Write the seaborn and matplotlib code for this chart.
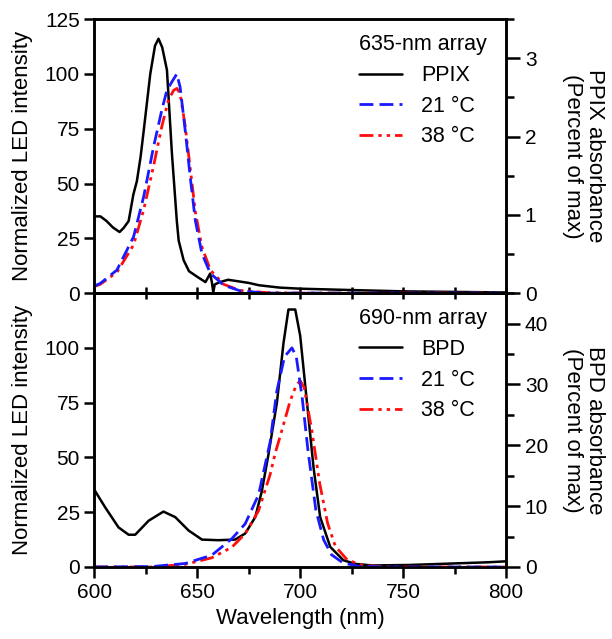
import pandas as pd
import seaborn as sns
import matplotlib.pyplot as plt
from matplotlib.ticker import MultipleLocator
from matplotlib.lines import Line2D

# --- top panel: 635-nm array / PPIX (absorbance in percent of max) ---
ppix_wl = [600, 603, 606, 609, 612.3, 614.2, 616.7, 619, 620.7, 622.5, 624, 627.2,
           629.5, 631.2, 633, 635.3, 637.7, 640.1, 641, 643.4, 646, 649.9, 654,
           656.3, 657.1, 657.8, 658.5, 661, 665, 670, 675, 680, 690, 700, 720, 750, 800]
ppix_abs = [0.98, 0.98, 0.92, 0.84, 0.78, 0.83, 0.92, 1.26, 1.43, 1.74, 2.07, 2.80,
            3.16, 3.25, 3.14, 2.85, 1.79, 0.92, 0.67, 0.42, 0.28, 0.21, 0.14,
            0.25, 0.14, 0.01, 0.11, 0.14, 0.17, 0.15, 0.13, 0.10, 0.07, 0.056, 0.042,
            0.022, 0.008]

led635_21_wl = [600, 602.9, 611, 619.1, 624, 628.8, 632.8, 635.3, 637.7, 640.1, 641.7,
                644.2, 646.6, 649.1, 652.3, 656.4, 662.8, 670.9, 683.9, 800]
led635_21 = [3.2, 4.4, 10.5, 25.7, 44, 66.7, 83.5, 92.6, 96.4, 100, 94,
             74, 53, 33, 18, 9, 3.6, 1, 0, 0]

led635_38_wl = [600, 602.9, 611, 619.1, 624, 628.8, 632.8, 636, 638.5, 640.1, 641.7,
                644.2, 646.6, 649.1, 652.3, 656.4, 662.8, 670.9, 683.9, 700, 800]
led635_38 = [3, 4, 9.5, 22, 38, 58, 76, 88, 92.5, 93.4, 91,
             76, 57, 37, 21, 10.5, 4, 1.2, 0.2, 0, 0]

# --- bottom panel: 690-nm array / BPD ---
bpd_wl = [600, 605.3, 611.8, 616.7, 619.9, 626.4, 633.6, 639.3, 645.8, 652.3, 660.3,
          668.4, 673.3, 678.2, 681.4, 684.6, 688.7, 691.9, 694.3, 697.6, 700, 703.3,
          706.5, 709.7, 714.6, 721, 727, 735, 753, 772, 791, 800]
bpd_abs = [12.7, 9.8, 6.5, 5.3, 5.3, 7.6, 9.1, 8.2, 6.0, 4.5, 4.4,
           4.5, 5.5, 8.2, 12.5, 18.5, 27, 36.8, 42.3, 42.3, 38, 27,
           16.3, 8.2, 3.3, 1.1, 0.5, 0.25, 0.33, 0.55, 0.77, 0.93]

led690_21_wl = [600, 628, 644.2, 657.1, 666.8, 673.3, 679.8, 685.4, 688.6, 692.4, 696,
                698.1, 701, 703.8, 707.6, 711.4, 715.2, 720.9, 728.5, 743.6, 800]
led690_21 = [0, 0.2, 1.6, 5.4, 12.9, 19.7, 33, 57, 80, 96, 100,
             96, 77, 53, 26, 12.4, 5.6, 1.8, 0.3, 0, 0]

led690_38_wl = [600, 628, 644.2, 657.1, 666.8, 673.3, 679.8, 685.4, 687.9, 691, 695.2,
                698.1, 700, 701.9, 705.7, 709.5, 713.3, 717.1, 722.8, 730.4, 743.6, 800]
led690_38 = [0, 0, 1.2, 4.2, 9, 15.2, 25.7, 42.2, 52, 62, 76,
             83, 85, 82, 62, 38, 20, 9.4, 3.3, 0.6, 0, 0]

sns.set_style("ticks")
plt.rcParams['font.family'] = ['Liberation Sans', 'DejaVu Sans']
plt.rcParams['axes.linewidth'] = 1.8
plt.rcParams['axes.edgecolor'] = 'black'
plt.rcParams['xtick.color'] = 'black'
plt.rcParams['ytick.color'] = 'black'
plt.rcParams['text.color'] = 'black'
plt.rcParams['axes.labelcolor'] = 'black'

BLUE = "#1a1aff"
RED = "#ff0d0d"
dash21 = (0, (5, 2.2))
dash38 = (0, (5, 1.8, 1.2, 1.8, 1.2, 1.8))

fig, (ax1, ax2) = plt.subplots(2, 1, figsize=(6.12, 6.39), dpi=100, sharex=True)
fig.subplots_adjust(left=0.154, right=0.827, top=0.970, bottom=0.1127, hspace=0)

panels = [
    (ax1, ppix_wl, ppix_abs, led635_21_wl, led635_21, led635_38_wl, led635_38,
     "PPIX", "635-nm array", 3.5, 1, 0.5),
    (ax2, bpd_wl, bpd_abs, led690_21_wl, led690_21, led690_38_wl, led690_38,
     "BPD", "690-nm array", 45, 10, 5),
]

for ax, dw, dv, w21, v21, w38, v38, drug, title, rmax, rmaj, rmin in panels:
    axr = ax.twinx()
    sns.lineplot(x=w38, y=v38, ax=ax, color=RED, lw=2, linestyle=dash38)
    sns.lineplot(x=w21, y=v21, ax=ax, color=BLUE, lw=2, linestyle=dash21)
    sns.lineplot(x=dw, y=dv, ax=axr, color="black", lw=1.8)
    ax.set_zorder(axr.get_zorder() + 1)
    ax.patch.set_visible(False)

    ax.set_xlim(600, 800)
    ax.set_ylim(0, 125)
    ax.yaxis.set_major_locator(MultipleLocator(25))
    ax.xaxis.set_major_locator(MultipleLocator(50))
    ax.xaxis.set_minor_locator(MultipleLocator(25))
    ax.set_ylabel("Normalized LED intensity", fontsize=16, va="center")
    ax.yaxis.set_label_coords(-0.175, 0.5)
    ax.tick_params(axis="y", direction="out", length=7, width=1.8, labelsize=15)

    axr.set_ylim(0, rmax)
    axr.yaxis.set_major_locator(MultipleLocator(rmaj))
    axr.yaxis.set_minor_locator(MultipleLocator(rmin))
    axr.tick_params(axis="y", which="major", direction="out", length=10, width=1.8, labelsize=15)
    axr.tick_params(axis="y", which="minor", direction="out", length=6, width=1.8)
    axr.set_ylabel(f"{drug} absorbance\n(Percent of max)", fontsize=16,
                   rotation=270, va="center", linespacing=1.1)
    axr.yaxis.set_label_coords(1.188, 0.5)
    for s in axr.spines.values():
        s.set_linewidth(1.8)

    handles = [
        Line2D([], [], color="black", lw=1.8),
        Line2D([], [], color=BLUE, lw=2, linestyle=dash21),
        Line2D([], [], color=RED, lw=2, linestyle=dash38),
    ]
    ax.legend(handles, [drug, "21 °C", "38 °C"], loc="upper right",
              bbox_to_anchor=(1.0, 1.015), frameon=False, fontsize=15.5,
              title=title, title_fontsize=15.5, alignment="left",
              handlelength=2.0, handletextpad=0.9, labelspacing=0.45)

ax2.set_yticks([0, 25, 50, 75, 100])
ax1.tick_params(axis="x", which="both", direction="inout", length=9, width=1.8,
                labelbottom=False)
ax2.tick_params(axis="x", which="major", direction="out", length=8, width=1.8, labelsize=15)
ax2.tick_params(axis="x", which="minor", direction="out", length=5, width=1.8)
ax2.set_xlabel("Wavelength (nm)", fontsize=16, labelpad=4)

plt.savefig("out.png", dpi=100)
